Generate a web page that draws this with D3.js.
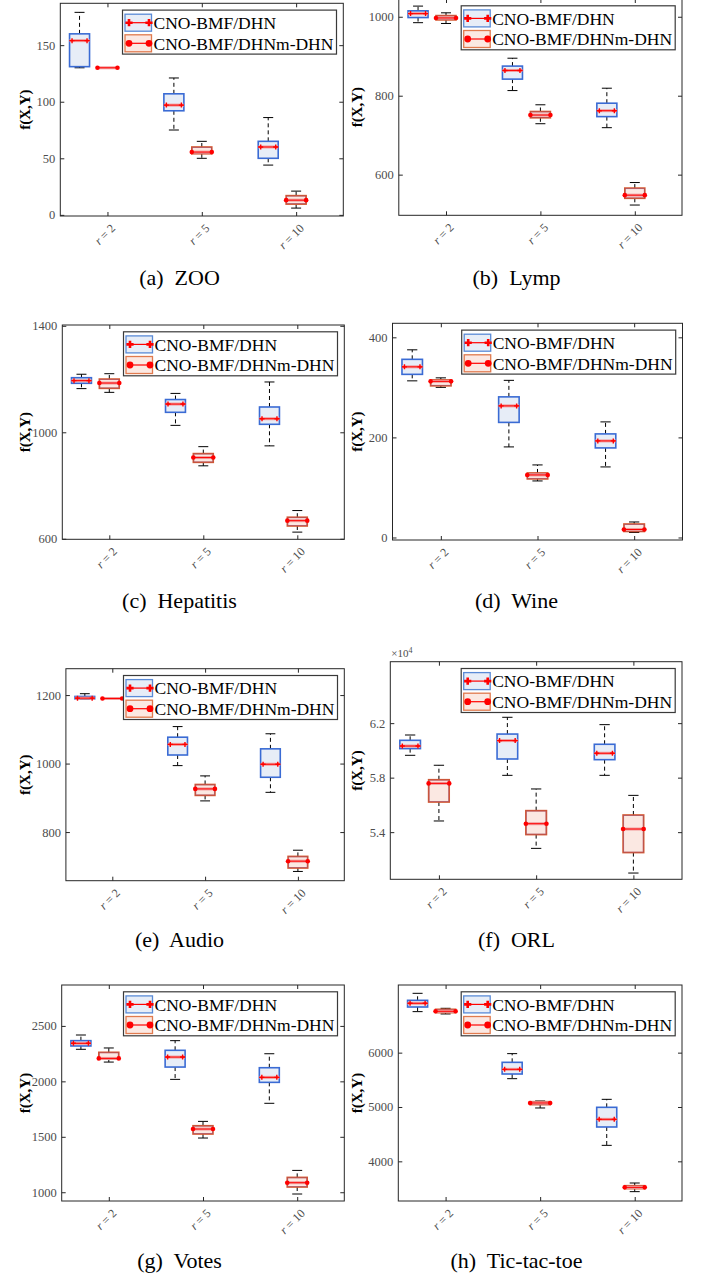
<!DOCTYPE html>
<html>
<head>
<meta charset="utf-8">
<script src="https://cdn.jsdelivr.net/npm/d3@7"></script>
<style>
  body { margin: 0; background: #fff; }
  svg { display: block; }
  text { font-family: "Liberation Serif", "DejaVu Serif", serif; }
</style>
</head>
<body>
<svg id="fig" width="704" height="1280"></svg>
<script>
const categories = ['2', '5', '10']
const methods = ['CNO-BMF/DHN', 'CNO-BMF/DHNm-DHN']

// box stats per r: [min, q1, median, q3, max]
const zooBlue = [[130, 131, 154, 160, 179], [75, 92, 97, 107, 121], [44, 50, 60, 65, 86]]
const zooRed = [[130, 130, 130, 130, 130], [50, 54, 55.5, 60, 65], [6, 9.5, 13, 17, 21]]
const lympBlue = [[985, 998, 1008, 1015, 1027], [813, 842, 864, 875, 895], [719, 747, 762, 781, 819]]
const lympRed = [[983, 992, 997, 1003, 1010], [729, 744, 751, 760, 777], [523, 540, 548, 566, 580]]
const hepBlue = [[1164, 1184, 1194, 1205, 1218], [1026, 1075, 1106, 1123, 1146], [949, 1030, 1051, 1095, 1189]]
const hepRed = [[1150, 1165, 1185, 1200, 1220], [874, 887, 905, 920, 946], [625, 648, 668, 681, 706]]
const wineBlue = [[313, 326, 341, 356, 375], [181, 230, 263, 281, 314], [141, 179, 193, 207, 231]]
const wineRed = [[300, 303, 312, 315, 319], [113, 117, 125, 129, 145], [10, 12, 16, 27, 31]]
const audioBlue = [[1188, 1189, 1191, 1196, 1204], [994, 1025, 1056, 1077, 1108], [916, 960, 998, 1043, 1087]]
const audioRed = [[1189, 1189, 1190, 1191, 1191], [891, 907, 926, 939, 964], [685, 695, 715, 729, 747]]
const orlBlue = [[59640, 60130, 60320, 60740, 61130], [58170, 59370, 60720, 61200, 62430], [58170, 59320, 59790, 60450, 61890]]
const orlRed = [[54820, 56210, 57580, 57850, 58910], [52810, 53820, 54620, 55580, 57170], [51000, 52500, 54230, 55260, 56700]]
const votesBlue = [[2289, 2319, 2343, 2367, 2418], [2018, 2129, 2219, 2280, 2367], [1802, 1991, 2036, 2123, 2249]]
const votesRed = [[2174, 2201, 2207, 2262, 2301], [1489, 1525, 1570, 1600, 1639], [984, 1047, 1086, 1134, 1197]]
const tttBlue = [[6755, 6840, 6908, 6963, 7092], [5521, 5607, 5693, 5822, 5982], [4294, 4632, 4773, 4994, 5141]]
const tttRed = [[6712, 6736, 6761, 6798, 6816], [4982, 5043, 5074, 5098, 5110], [3442, 3497, 3521, 3552, 3601]]

const zooTicks = [0, 50, 100, 150]
const lympTicks = [600, 800, 1000]
const hepTicks = [600, 1000, 1400]
const wineTicks = [0, 200, 400]
const audioTicks = [800, 1000, 1200]
const orlTicks = [54000, 58000, 62000]
const votesTicks = [1000, 1500, 2000, 2500]
const tttTicks = [4000, 5000, 6000]

const captions = ['(a) ZOO', '(b) Lymp', '(c) Hepatitis', '(d) Wine', '(e) Audio', '(f) ORL', '(g) Votes', '(h) Tic-tac-toe']

const BLUE_EDGE = '#3a6bd4'
const BLUE_FILL = '#e7edf7'
const RED_EDGE = '#d5582e'
const RED_FILL = '#fbe8e2'

// axes frame [left, top, right, bottom], y domain, caption anchor
const panels = [
  { blue: zooBlue, red: zooRed, ticks: zooTicks, domain: [-1, 187], frame: [60.3, 3.3, 343.3, 216], cap: [179.5, 285] },
  { blue: lympBlue, red: lympRed, ticks: lympTicks, domain: [497, 1045], frame: [398.8, -1, 682, 215.3], cap: [516.5, 285] },
  { blue: hepBlue, red: hepRed, ticks: hepTicks, domain: [598, 1403], frame: [62.3, 325, 344.3, 539.3], cap: [179.5, 608] },
  { blue: wineBlue, red: wineRed, ticks: wineTicks, domain: [-5, 428], frame: [392.5, 323.3, 682.5, 540], cap: [516.5, 608] },
  { blue: audioBlue, red: audioRed, ticks: audioTicks, domain: [658, 1277], frame: [65.9, 668.7, 344.3, 880.7], cap: [179.5, 947] },
  { blue: orlBlue, red: orlRed, ticks: orlTicks, domain: [50540, 66510], frame: [390.3, 661.7, 682, 879.3], cap: [516.5, 947], exp: true },
  { blue: votesBlue, red: votesRed, ticks: votesTicks, domain: [921, 2869], frame: [61.7, 985, 344.3, 1201], cap: [179.5, 1268] },
  { blue: tttBlue, red: tttRed, ticks: tttTicks, domain: [3270, 7245], frame: [398.3, 985, 682, 1201], cap: [516.5, 1268] }
]

const svg = d3.select('#fig')

function plus(g, x, y, s, w) {
  g.append('path')
    .attr('d', `M${x - s},${y}H${x + s}M${x},${y - s}V${y + s}`)
    .attr('stroke', '#ff0000')
    .attr('stroke-width', w)
}

function drawBox(g, x, y, st, bw, isBlue) {
  const [mn, q1, md, q3, mx] = st.map(y)
  const cw = bw * 0.5
  // whiskers
  g.append('line').attr('x1', x).attr('x2', x).attr('y1', q3).attr('y2', mx)
    .attr('stroke', '#000').attr('stroke-dasharray', '4,3')
  g.append('line').attr('x1', x).attr('x2', x).attr('y1', q1).attr('y2', mn)
    .attr('stroke', '#000').attr('stroke-dasharray', '4,3')
  g.append('line').attr('x1', x - cw / 2).attr('x2', x + cw / 2).attr('y1', mx).attr('y2', mx).attr('stroke', '#000')
  g.append('line').attr('x1', x - cw / 2).attr('x2', x + cw / 2).attr('y1', mn).attr('y2', mn).attr('stroke', '#000')

  g.append('rect')
    .attr('x', x - bw / 2).attr('y', q3)
    .attr('width', bw).attr('height', Math.max(q1 - q3, 0))
    .attr('fill', isBlue ? BLUE_FILL : RED_FILL)
    .attr('stroke', isBlue ? BLUE_EDGE : RED_EDGE)
    .attr('stroke-width', 1.6)
  if (!isBlue) {
    g.append('rect')
      .attr('x', x - bw / 2 + 0.5).attr('y', q3 + 0.5)
      .attr('width', bw - 1).attr('height', Math.max(q1 - q3 - 1, 0))
      .attr('fill', 'none')
      .attr('stroke', '#9c4d78')
      .attr('stroke-opacity', 0.55)
      .attr('stroke-width', 1)
  }

  // median
  g.append('line').attr('x1', x - bw / 2).attr('x2', x + bw / 2).attr('y1', md).attr('y2', md)
    .attr('stroke', '#f29a9a').attr('stroke-width', 3)
  g.append('line').attr('x1', x - bw / 2).attr('x2', x + bw / 2).attr('y1', md).attr('y2', md)
    .attr('stroke', '#ff0000').attr('stroke-width', 1)
  if (isBlue) {
    plus(g, x - bw / 2 + 2.5, md, 2.5, 1.4)
    plus(g, x + bw / 2 - 2.5, md, 2.5, 1.4)
  } else {
    g.append('circle').attr('cx', x - bw / 2).attr('cy', md).attr('r', 2.3).attr('fill', '#ff0000')
    g.append('circle').attr('cx', x + bw / 2).attr('cy', md).attr('r', 2.3).attr('fill', '#ff0000')
  }
}

function drawLegend(g, L, T) {
  const W = 214, H = 44
  g.append('rect').attr('x', L).attr('y', T).attr('width', W).attr('height', H)
    .attr('fill', '#fff').attr('stroke', '#3a3a3a').attr('stroke-width', 1.2)
  methods.forEach((name, i) => {
    const cy = T + 12.6 + i * 20.6
    const isBlue = i === 0
    g.append('rect').attr('x', L + 2.5).attr('y', cy - 8.5).attr('width', 26.5).attr('height', 17)
      .attr('fill', isBlue ? BLUE_FILL : RED_FILL)
      .attr('stroke', isBlue ? '#5a8ad6' : '#e07a4e')
      .attr('stroke-width', 1.3)
    g.append('line').attr('x1', L + 6.5).attr('x2', L + 26.5).attr('y1', cy).attr('y2', cy)
      .attr('stroke', '#ff0000').attr('stroke-width', 1.2)
    ;[L + 6.5, L + 26.5].forEach((mx) => {
      if (isBlue) plus(g, mx, cy, 3.6, 2.6)
      else g.append('circle').attr('cx', mx).attr('cy', cy).attr('r', 3.4).attr('fill', '#ff0000')
    })
    g.append('text').attr('x', L + 31).attr('y', cy + 6.3)
      .attr('font-size', 17.5).attr('fill', '#000')
      .text(name)
  })
}

panels.forEach((p, pi) => {
  const [left, top, right, bottom] = p.frame
  const g = svg.append('g')

  const x = d3.scalePoint().domain(categories).range([left, right]).padding(0.5)
  const y = d3.scaleLinear().domain(p.domain).range([bottom, top])
  const step = x.step()
  const bw = step * 0.212
  const off = step * 0.296

  const fmt = p.exp ? (d) => d3.format('.1f')(d / 1e4) : d3.format('d')

  const axL = g.append('g').attr('transform', `translate(${left},0)`)
    .call(d3.axisLeft(y).tickValues(p.ticks).tickSize(-4).tickPadding(5).tickFormat(fmt))
  axL.attr('font-family', null)
  axL.selectAll('text').attr('font-size', 12.5).attr('fill', '#4d4d4d')
  g.append('g').attr('transform', `translate(${right},0)`)
    .call(d3.axisRight(y).tickValues(p.ticks).tickSize(-4).tickFormat(''))
  g.append('g').attr('transform', `translate(0,${top})`)
    .call(d3.axisTop(x).tickSize(-4).tickFormat(''))
  const axB = g.append('g').attr('transform', `translate(0,${bottom})`)
    .call(d3.axisBottom(x).tickSize(-4).tickFormat(''))
  axB.attr('font-family', null)
  g.selectAll('.domain').remove()
  g.selectAll('.tick line').attr('stroke', '#262626')

  axB.selectAll('.tick').each(function (d) {
    const t = d3.select(this).append('text')
      .attr('text-anchor', 'end')
      .attr('transform', 'translate(8,13) rotate(-45)')
      .attr('font-size', 12).attr('fill', '#4d4d4d')
    t.append('tspan').attr('font-style', 'italic').text('r')
    t.append('tspan').text(' = ' + d)
  })

  categories.forEach((c, i) => {
    drawBox(g, x(c) - off, y, p.blue[i], bw, true)
    drawBox(g, x(c), y, p.red[i], bw, false)
  })

  g.append('rect').attr('x', left).attr('y', top)
    .attr('width', right - left).attr('height', bottom - top)
    .attr('fill', 'none').attr('stroke', '#262626').attr('stroke-width', 1)

  drawLegend(g, right - 6.8 - 214, top + 6.8)

  const labX = pi % 2 === 0 ? 30 : 361.5
  g.append('text')
    .attr('transform', `translate(${labX},${(top + bottom) / 2}) rotate(-90)`)
    .attr('text-anchor', 'middle')
    .attr('font-weight', 'bold').attr('font-size', 15)
    .attr('fill', '#000')
    .text('f(X,Y)')

  if (p.exp) {
    const e = g.append('text').attr('x', left + 1).attr('y', top - 4.5)
      .attr('font-size', 11).attr('fill', '#4d4d4d')
    e.append('tspan').text('×10')
    e.append('tspan').attr('font-size', 8).attr('dy', -4).text('4')
  }

  g.append('text').attr('x', p.cap[0]).attr('y', p.cap[1])
    .attr('text-anchor', 'middle')
    .attr('font-size', 22).attr('fill', '#000')
    .attr('xml:space', 'preserve')
    .text(captions[pi].replace(') ', ')  '))
})
</script>
</body>
</html>
